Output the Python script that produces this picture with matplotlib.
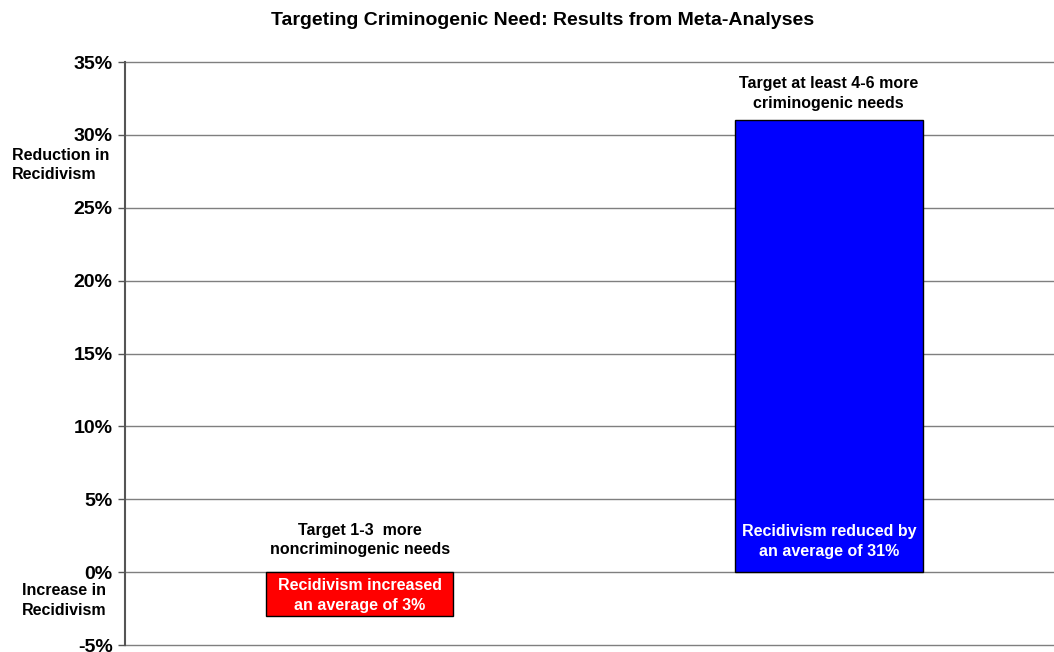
import matplotlib
matplotlib.use("Agg")
import matplotlib.pyplot as plt
from matplotlib.ticker import FuncFormatter

plt.rcParams['font.family'] = ['Liberation Sans', 'DejaVu Sans']
plt.rcParams['font.weight'] = 'bold'

# data
categories = ['noncriminogenic', 'criminogenic']
values = [-3, 31]
bar_colors = ['#ff0000', '#0000ff']
top_labels = ['Target 1-3  more\nnoncriminogenic needs',
              'Target at least 4-6 more\ncriminogenic needs']
inner_labels = ['Recidivism increased\nan average of 3%',
                'Recidivism reduced by\nan average of 31%']
yticks = [-5, 0, 5, 10, 15, 20, 25, 30, 35]

fig = plt.figure(figsize=(10.54, 6.52), dpi=100)
ax = fig.add_axes([0.1186, 0.0107, 0.8814, 0.8942])

x = list(range(len(categories)))
ax.bar(x, values, width=0.40, color=bar_colors, edgecolor='black', linewidth=1, zorder=3)

ax.set_xlim(-0.5, 1.48)
ax.set_ylim(-5, 35)
ax.set_yticks(yticks)
ax.yaxis.set_major_formatter(FuncFormatter(lambda v, p: f"{v:.0f}%"))
ax.tick_params(axis='y', labelsize=14, length=5, width=1, color='#555555', pad=4)
ax.set_xticks([])

ax.grid(axis='y', color='#7f7f7f', linewidth=1, zorder=0)
for gl in ax.get_ygridlines():
    gl.set_clip_on(False)
for s in ['top', 'right', 'bottom']:
    ax.spines[s].set_visible(False)
ax.spines['left'].set_color('#555555')
ax.spines['left'].set_linewidth(1.5)

fs = 11.5
ls = 1.4
# annotation above/inside bars
ax.text(0, 2.2, top_labels[0], ha='center', va='center', fontsize=fs,
        fontweight='bold', linespacing=ls)
ax.text(1, 32.85, top_labels[1], ha='center', va='center', fontsize=fs,
        fontweight='bold', linespacing=ls)
ax.text(0, -1.6, inner_labels[0], ha='center', va='center', fontsize=fs,
        fontweight='bold', color='white', zorder=4, linespacing=ls)
ax.text(1, 2.1, inner_labels[1], ha='center', va='center', fontsize=fs,
        fontweight='bold', color='white', zorder=4, linespacing=ls)

# side labels
fig.text(0.011, 0.747, 'Reduction in\nRecidivism', ha='left', va='center',
         fontsize=fs, fontweight='bold', linespacing=ls)
fig.text(0.101, 0.079, 'Increase in\nRecidivism', ha='right', va='center',
         fontsize=fs, fontweight='bold', linespacing=ls)

fig.text(0.515, 0.969, 'Targeting Criminogenic Need: Results from Meta-Analyses',
         ha='center', va='center', fontsize=14, fontweight='bold')

fig.savefig('out.png', dpi=100)
